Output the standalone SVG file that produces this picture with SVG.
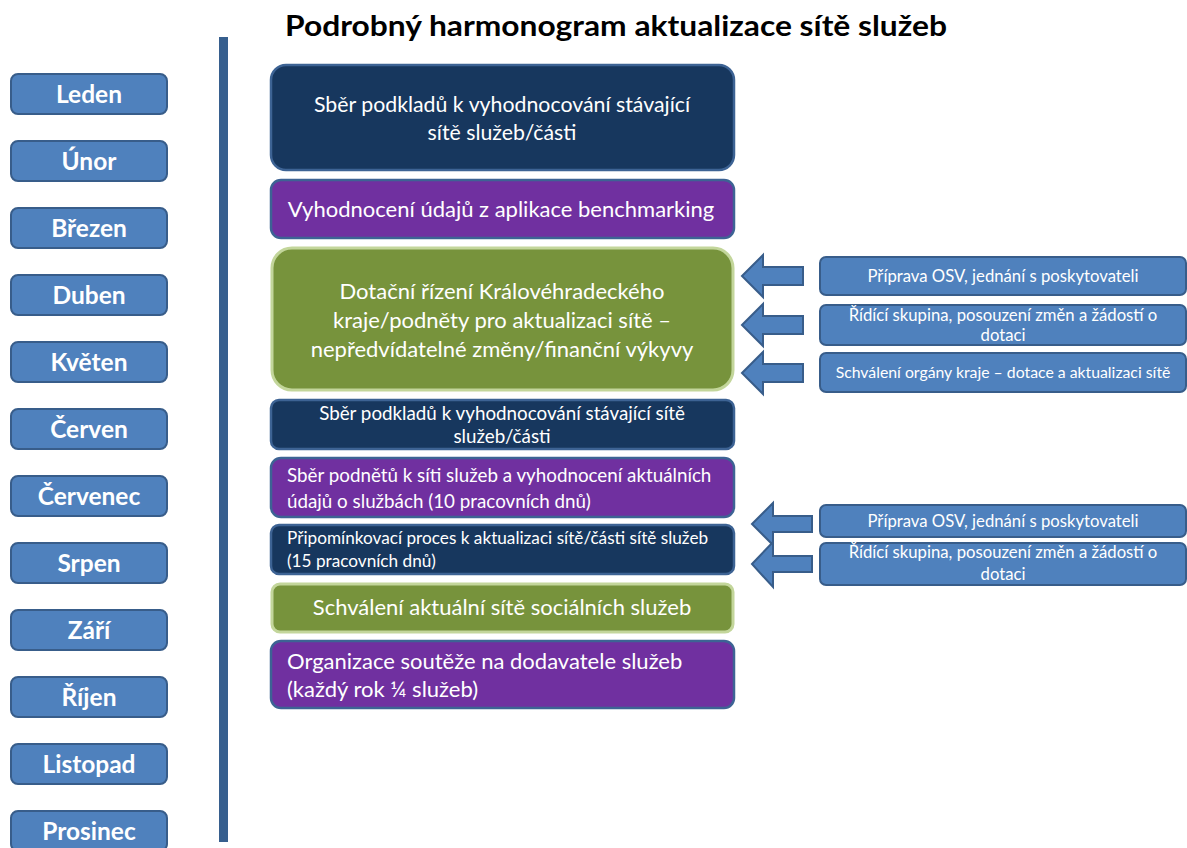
<svg xmlns="http://www.w3.org/2000/svg" width="1187" height="848" viewBox="0 0 1187 848">
  <style>
    text { font-family: Lato, "Open Sans", "Noto Sans", sans-serif; fill: #ffffff; }
    .title { fill: #000000; font-weight: bold; font-size: 28px; }
    .month rect { fill: #4f81bd; stroke: #385d8a; stroke-width: 2; }
    .month text { font-weight: bold; font-size: 24.5px; text-anchor: middle; }
    .navy { fill: #17375e; stroke: #3d6394; stroke-width: 2.5; }
    .purple { fill: #7030a0; stroke: #3d6394; stroke-width: 2.5; }
    .green { fill: #77933c; stroke: #c3d69b; stroke-width: 3; }
    .side { fill: #4f81bd; stroke: #385d8a; stroke-width: 2; }
    .arrow { fill: #4f81bd; stroke: #385d8a; stroke-width: 2; }
    .c { text-anchor: middle; }
    .big { font-size: 22px; }
    .mid { font-size: 18.8px; }
    .sm { font-size: 17.2px; }
    .xs { font-size: 16.7px; }
  </style>

  <text class="title" x="616" y="36" text-anchor="middle" textLength="662" lengthAdjust="spacingAndGlyphs">Podrobný harmonogram aktualizace sítě služeb</text>

  <!-- timeline bar -->
  <rect x="219" y="37" width="9" height="805" fill="#375f8e"/>

  <!-- months -->
  <g id="m01" class="month"><rect x="11" y="74" width="156" height="40" rx="7"/><text x="89" y="103">Leden</text></g>
  <g id="m02" class="month"><rect x="11" y="141" width="156" height="40" rx="7"/><text x="89" y="170">Únor</text></g>
  <g id="m03" class="month"><rect x="11" y="208" width="156" height="40" rx="7"/><text x="89" y="237">Březen</text></g>
  <g id="m04" class="month"><rect x="11" y="275" width="156" height="40" rx="7"/><text x="89" y="304">Duben</text></g>
  <g id="m05" class="month"><rect x="11" y="342" width="156" height="40" rx="7"/><text x="89" y="371">Květen</text></g>
  <g id="m06" class="month"><rect x="11" y="409" width="156" height="40" rx="7"/><text x="89" y="438">Červen</text></g>
  <g id="m07" class="month"><rect x="11" y="476" width="156" height="40" rx="7"/><text x="89" y="505">Červenec</text></g>
  <g id="m08" class="month"><rect x="11" y="543" width="156" height="40" rx="7"/><text x="89" y="572">Srpen</text></g>
  <g id="m09" class="month"><rect x="11" y="610" width="156" height="40" rx="7"/><text x="89" y="639">Září</text></g>
  <g id="m10" class="month"><rect x="11" y="677" width="156" height="40" rx="7"/><text x="89" y="706">Říjen</text></g>
  <g id="m11" class="month"><rect x="11" y="744" width="156" height="40" rx="7"/><text x="89" y="773">Listopad</text></g>
  <g id="m12" class="month"><rect x="11" y="811" width="156" height="40" rx="7"/><text x="89" y="840">Prosinec</text></g>

  <!-- activities -->
  <g id="a1">
    <rect class="navy" x="271" y="65" width="463" height="105" rx="15"/>
    <text class="c" font-size="21.3" x="502" y="112">Sběr podkladů k vyhodnocování stávající</text>
    <text class="c" font-size="21.3" x="502" y="140">sítě služeb/části</text>
  </g>
  <g id="a2">
    <rect class="purple" x="271" y="180" width="463" height="58" rx="10"/>
    <text class="c big" x="501" y="217">Vyhodnocení údajů z aplikace benchmarking</text>
  </g>
  <g id="a3">
    <rect class="green" x="272" y="248" width="461" height="142" rx="20"/>
    <text class="c big" x="502" y="299">Dotační řízení Královéhradeckého</text>
    <text class="c big" x="502" y="328">kraje/podněty pro aktualizaci sítě –</text>
    <text class="c big" x="502" y="357">nepředvídatelné změny/finanční výkyvy</text>
  </g>
  <g id="a4">
    <rect class="navy" x="271" y="400" width="463" height="49" rx="8"/>
    <text class="c mid" x="502" y="420">Sběr podkladů k vyhodnocování stávající sítě</text>
    <text class="c mid" x="502" y="443">služeb/části</text>
  </g>
  <g id="a5">
    <rect class="purple" x="271" y="458" width="463" height="59" rx="10"/>
    <text class="mid" x="287" y="482">Sběr podnětů k síti služeb a vyhodnocení aktuálních</text>
    <text class="mid" x="287" y="508">údajů o službách (10 pracovních dnů)</text>
  </g>
  <g id="a6">
    <rect class="navy" x="271" y="525" width="463" height="49" rx="8"/>
    <text class="sm" x="287" y="544">Připomínkovací proces k aktualizaci sítě/části sítě služeb</text>
    <text class="sm" x="287" y="567">(15 pracovních dnů)</text>
  </g>
  <g id="a7">
    <rect class="green" x="272" y="584" width="461" height="48" rx="8"/>
    <text class="c big" x="502" y="615">Schválení aktuální sítě sociálních služeb</text>
  </g>
  <g id="a8">
    <rect class="purple" x="271" y="641" width="463" height="67" rx="10"/>
    <text class="big" x="287" y="669">Organizace soutěže na dodavatele služeb</text>
    <text class="big" x="287" y="697">(každý rok ¼ služeb)</text>
  </g>

  <!-- side inputs -->
  <g id="s1">
    <rect class="side" x="820" y="257" width="366" height="38" rx="6"/>
    <text class="c xs" x="1003" y="282">Příprava OSV, jednání s poskytovateli</text>
  </g>
  <g id="s2">
    <rect class="side" x="820" y="305" width="366" height="40" rx="6"/>
    <text class="c xs" x="1003" y="321">Řídící skupina, posouzení změn a žádostí o</text>
    <text class="c xs" x="1003" y="341">dotaci</text>
  </g>
  <g id="s3">
    <rect class="side" x="820" y="353" width="366" height="39" rx="6"/>
    <text class="c" x="1003" y="378" font-size="15.8">Schválení orgány kraje – dotace a aktualizaci sítě</text>
  </g>
  <g id="s4">
    <rect class="side" x="820" y="505" width="366" height="32" rx="6"/>
    <text class="c xs" x="1003" y="527">Příprava OSV, jednání s poskytovateli</text>
  </g>
  <g id="s5">
    <rect class="side" x="820" y="543" width="366" height="42" rx="6"/>
    <text class="c xs" x="1003" y="558">Řídící skupina, posouzení změn a žádostí o</text>
    <text class="c xs" x="1003" y="580">dotaci</text>
  </g>

  <!-- block arrows pointing into the activities -->
  <g id="connectors">
    <path class="arrow" d="M742,276 L763,255 L763,267 L803,267 L803,285 L763,285 L763,297 Z"/>
    <path class="arrow" d="M742,325 L763,304 L763,316 L803,316 L803,334 L763,334 L763,346 Z"/>
    <path class="arrow" d="M742,373 L763,352 L763,364 L803,364 L803,382 L763,382 L763,394 Z"/>
    <path class="arrow" d="M752,524 L773,503 L773,516 L812,516 L812,532 L773,532 L773,545 Z"/>
    <path class="arrow" d="M752,564 L773,542 L773,556 L812,556 L812,572 L773,572 L773,587 Z"/>
  </g>
</svg>
